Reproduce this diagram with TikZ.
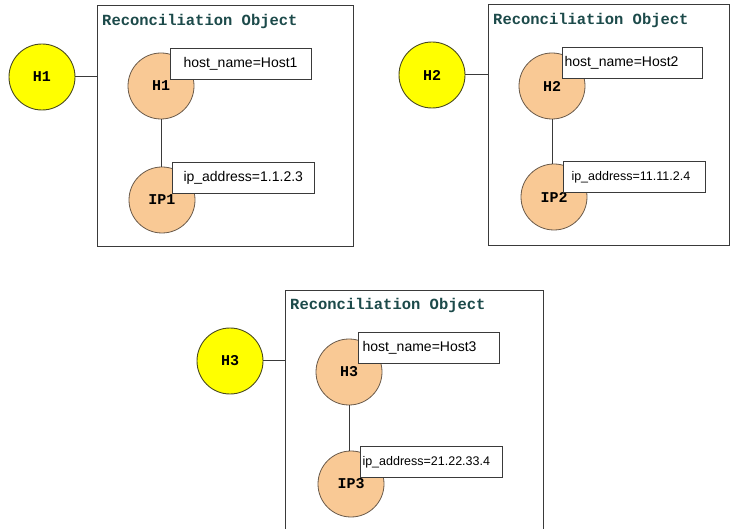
\documentclass[tikz,border=0pt]{standalone}
\usepackage{fontspec}
\setmainfont{Liberation Sans}
\newfontfamily\monob{Liberation Mono}
\definecolor{ttl}{HTML}{1C4A4A}
\definecolor{ylw}{HTML}{FFFF00}
\definecolor{ylwline}{HTML}{4A4A20}
\definecolor{peach}{HTML}{F9C995}
\definecolor{peachline}{HTML}{6A5A4A}
\definecolor{frame}{HTML}{3A3A3A}
\newcommand{\lbltext}[3]{\makebox[#1pt][l]{\hspace*{#2pt}#3}}
\tikzset{
  objbox/.style={draw=frame, line width=1pt, rectangle, anchor=north west, inner sep=0pt},
  ttlnode/.style={anchor=west, inner sep=0pt, text=ttl, font=\monob\bfseries\fontsize{15.5}{15.5}\selectfont},
  hostc/.style={circle, draw=ylwline, line width=0.9pt, fill=ylw, minimum size=66pt, inner sep=0pt, font=\monob\bfseries\fontsize{15}{15}\selectfont},
  objc/.style={circle, draw=peachline, line width=0.8pt, fill=peach, minimum size=66pt, inner sep=0pt, font=\monob\bfseries\fontsize{15}{15}\selectfont},
  lbl/.style={draw=frame, line width=1pt, fill=white, anchor=north west, inner sep=0pt, minimum height=31pt},
  big/.style={font=\fontsize{14}{14}\selectfont},
  small/.style={font=\fontsize{12.5}{12.5}\selectfont},
  conn/.style={draw=frame, line width=1pt}
}
\begin{document}
\begin{tikzpicture}[x=1pt,y=-1pt]
\useasboundingbox (0,0) rectangle (734,529);
\clip (0,0) rectangle (734,529);
\fill[white] (0,0) rectangle (734,529);

% Panel 1
\node[objbox, minimum width=256pt, minimum height=241pt] (box1) at (97,5) {};
\node[ttlnode] (t1) at (102,21) {Reconciliation Object};
\node[hostc] (y1) at (42,77) {H1};
\node[objc] (h1) at (161,86) {H1};
\node[objc] (ip1) at (162,200) {IP1};
\draw[conn] (y1.east) -- (y1.east -| box1.west);
\draw[conn] (h1.south) -- (h1.south |- ip1.north);
\node[lbl, big] (l1) at (170,48) {\lbltext{141}{13}{host\_name=Host1}};
\node[lbl, big] (m1) at (172,162) {\lbltext{142}{11}{ip\_address=1.1.2.3}};

% Panel 2
\node[objbox, minimum width=241pt, minimum height=241pt] (box2) at (488,4) {};
\node[ttlnode] (t2) at (493,20) {Reconciliation Object};
\node[hostc] (y2) at (432,75) {H2};
\node[objc] (h2) at (552,86) {H2};
\node[objc] (ip2) at (554,197) {IP2};
\draw[conn] (y2.east) -- (y2.east -| box2.west);
\draw[conn] (h2.south) -- (h2.south |- ip2.north);
\node[lbl, big] (l2) at (562,47) {\lbltext{140}{2}{host\_name=Host2}};
\node[lbl, small] (m2) at (563,161) {\lbltext{142}{8}{ip\_address=11.11.2.4}};

% Panel 3
\node[objbox, minimum width=258pt, minimum height=250pt] (box3) at (285,290) {};
\node[ttlnode] (t3) at (290,305) {Reconciliation Object};
\node[hostc] (y3) at (230,361) {H3};
\node[objc] (h3) at (349,372) {H3};
\node[objc] (ip3) at (351,484) {IP3};
\draw[conn] (y3.east) -- (y3.east -| box3.west);
\draw[conn] (h3.south) -- (h3.south |- ip3.north);
\node[lbl, big] (l3) at (358,332) {\lbltext{141}{4}{host\_name=Host3}};
\node[lbl, small] (m3) at (360,446) {\lbltext{142}{2}{ip\_address=21.22.33.4}};
\end{tikzpicture}
\end{document}
